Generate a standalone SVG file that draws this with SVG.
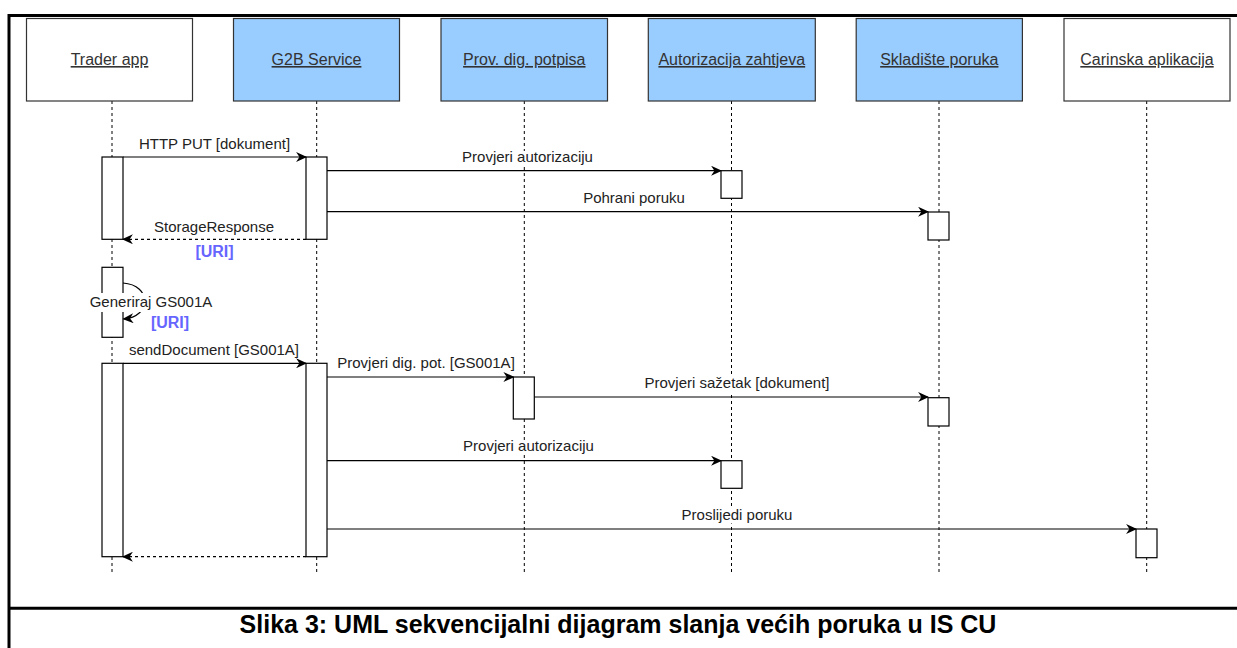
<svg xmlns="http://www.w3.org/2000/svg" width="1237" height="648" viewBox="0 0 1237 648">
<defs>
<style>
.frame{fill:none;stroke:#000;stroke-width:3}
.part{stroke:#333;stroke-width:1.2}
.blue{fill:#99CCFF}
.white{fill:#fff}
.title{font-family:"Liberation Sans",Arial,sans-serif;font-size:16px;fill:#333;text-anchor:middle;text-decoration:underline}
.life{stroke:#000;stroke-width:1;stroke-dasharray:3 3;fill:none}
.act{fill:#fff;stroke:#000;stroke-width:1.2}
.msg{stroke:#000;stroke-width:1.2;fill:none;marker-end:url(#arr)}
.ret{stroke:#000;stroke-width:1.2;fill:none;stroke-dasharray:3 3;marker-end:url(#arr)}
.lbl{font-family:"Liberation Sans",Arial,sans-serif;font-size:15px;fill:#222;text-anchor:middle}
.uri{font-family:"Liberation Sans",Arial,sans-serif;font-size:16px;font-weight:bold;fill:#6666FF;text-anchor:middle}
.bg{fill:#fff}
.cap{font-family:"Liberation Sans",Arial,sans-serif;font-size:25px;font-weight:bold;fill:#000;text-anchor:middle}
</style>
<marker id="arr" viewBox="0 0 10 9" refX="9" refY="4.5" markerWidth="11" markerHeight="10" markerUnits="userSpaceOnUse" orient="auto">
<path d="M0,0 L10,4.5 L0,9 L3,4.5 Z" fill="#000"/>
</marker>
</defs>
<rect width="1237" height="648" fill="#fff"/>
<rect class="frame" x="9" y="15.5" width="1250" height="650"/>
<line x1="9" y1="608.3" x2="1237" y2="608.3" stroke="#000" stroke-width="3"/>

<g id="lifelines">
<line class="life" x1="112" y1="101" x2="112" y2="572"/>
<line class="life" x1="316.7" y1="101" x2="316.7" y2="572"/>
<line class="life" x1="524.3" y1="101" x2="524.3" y2="572"/>
<line class="life" x1="731.5" y1="101" x2="731.5" y2="572"/>
<line class="life" x1="939" y1="101" x2="939" y2="572"/>
<line class="life" x1="1146.7" y1="101" x2="1146.7" y2="572"/>
</g>

<g id="trader-app">
<rect class="part white" x="26.5" y="18.5" width="166" height="82.5"/>
<text class="title" x="109.5" y="65">Trader app</text>
<rect class="act" x="102" y="157" width="21" height="82.3"/>
<rect class="act" x="102" y="267.3" width="21" height="70"/>
<rect class="act" x="102" y="363.3" width="21" height="193.4"/>
</g>

<g id="g2b-service">
<rect class="part blue" x="233.5" y="18.5" width="166" height="82.5"/>
<text class="title" x="316.5" y="65">G2B Service</text>
<rect class="act" x="306" y="157" width="21" height="82.3"/>
<rect class="act" x="306" y="363.3" width="21" height="193.4"/>
</g>

<g id="prov-dig-potpisa">
<rect class="part blue" x="441" y="18.5" width="166.5" height="82.5"/>
<text class="title" x="524.3" y="65">Prov. dig. potpisa</text>
<rect class="act" x="513.3" y="377" width="21" height="42"/>
</g>

<g id="autorizacija-zahtjeva">
<rect class="part blue" x="648.3" y="18.5" width="167" height="82.5"/>
<text class="title" x="731.8" y="65">Autorizacija zahtjeva</text>
<rect class="act" x="721" y="170.7" width="21" height="27.6"/>
<rect class="act" x="721" y="460.7" width="21" height="27.6"/>
</g>

<g id="skladiste-poruka">
<rect class="part blue" x="856.2" y="18.5" width="166.2" height="82.5"/>
<text class="title" x="939.3" y="65">Skladište poruka</text>
<rect class="act" x="928" y="212" width="21" height="28"/>
<rect class="act" x="928" y="397.7" width="21" height="28.3"/>
</g>

<g id="carinska-aplikacija">
<rect class="part white" x="1064" y="18.5" width="166" height="82.5"/>
<text class="title" x="1147" y="65">Carinska aplikacija</text>
<rect class="act" x="1136" y="529" width="21" height="28.7"/>
</g>

<g id="connectors">
<line class="msg" x1="123" y1="157" x2="306" y2="157"/>
<line class="msg" x1="327" y1="170.7" x2="721" y2="170.7"/>
<line class="msg" x1="327" y1="211.7" x2="928" y2="211.7"/>
<line class="ret" x1="306" y1="239.3" x2="123" y2="239.3"/>
<path class="msg" d="M123,283 C152,285 152,317 123.5,319"/>
<line class="msg" x1="123" y1="363.3" x2="306" y2="363.3"/>
<line class="msg" x1="327" y1="377" x2="513.3" y2="377"/>
<line class="msg" x1="534.3" y1="397" x2="928" y2="397"/>
<line class="msg" x1="327" y1="460.7" x2="721" y2="460.7"/>
<line class="msg" x1="327" y1="529" x2="1136" y2="529"/>
<line class="ret" x1="306" y1="556.7" x2="123" y2="556.7"/>
</g>

<g id="labels">
<text class="lbl" x="214.5" y="148.5">HTTP PUT [dokument]</text>
<rect class="bg" x="462" y="151" width="131" height="15"/>
<text class="lbl" x="527.5" y="162">Provjeri autorizaciju</text>
<text class="lbl" x="634" y="203">Pohrani poruku</text>
<text class="lbl" x="214" y="232">StorageResponse</text>
<text class="uri" x="214.5" y="256.5">[URI]</text>
<rect class="bg" x="89" y="293" width="124" height="19"/>
<text class="lbl" x="151" y="307">Generiraj GS001A</text>
<text class="uri" x="170" y="327.5">[URI]</text>
<text class="lbl" x="214" y="355">sendDocument [GS001A]</text>
<text class="lbl" x="426" y="368">Provjeri dig. pot. [GS001A]</text>
<rect class="bg" x="645" y="377" width="184" height="15"/>
<text class="lbl" x="737" y="388">Provjeri sažetak [dokument]</text>
<rect class="bg" x="463" y="440" width="131" height="15"/>
<text class="lbl" x="528.5" y="451">Provjeri autorizaciju</text>
<rect class="bg" x="684" y="508.5" width="106" height="15"/>
<text class="lbl" x="737" y="519.5">Proslijedi poruku</text>
</g>

<text class="cap" x="618" y="633">Slika 3: UML sekvencijalni dijagram slanja većih poruka u IS CU</text>
</svg>
